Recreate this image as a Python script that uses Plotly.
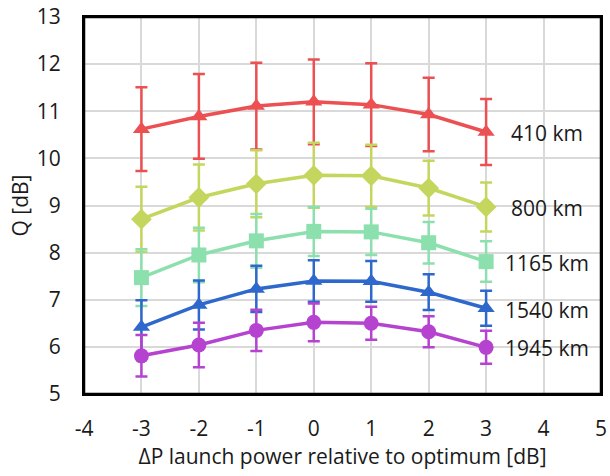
import plotly.graph_objects as go

x = [-3, -2, -1, 0, 1, 2, 3]

q_410 = [10.62, 10.89, 11.11, 11.20, 11.14, 10.93, 10.56]
e_410 = [0.89, 0.90, 0.92, 0.90, 0.88, 0.78, 0.70]

q_800 = [8.71, 9.17, 9.46, 9.64, 9.63, 9.37, 8.97]
e_800 = [0.69, 0.70, 0.71, 0.69, 0.66, 0.58, 0.52]

q_1165 = [7.47, 7.95, 8.25, 8.45, 8.44, 8.21, 7.81]
e_1165 = [0.60, 0.58, 0.57, 0.52, 0.49, 0.44, 0.43]

q_1540 = [6.42, 6.89, 7.23, 7.40, 7.39, 7.16, 6.82]
e_1540 = [0.57, 0.52, 0.49, 0.44, 0.43, 0.38, 0.37]

q_1945 = [5.81, 6.04, 6.35, 6.52, 6.50, 6.32, 5.99]
e_1945 = [0.44, 0.47, 0.44, 0.40, 0.35, 0.33, 0.35]

x_ticks = [-4, -3, -2, -1, 0, 1, 2, 3, 4, 5]
x_ticktext = ["-4", "-3", "-2", "-1", "0", "1", "2", "3", "4", "5"]

names = ["410 km", "800 km", "1165 km", "1540 km", "1945 km"]
label_x = [3.39, 3.39, 3.29, 3.29, 3.29]
label_y = [10.53, 8.94, 7.78, 6.78, 5.97]

series = [
    (q_410, e_410, "#EC5052", "triangle-up"),
    (q_800, e_800, "#C5D65E", "diamond"),
    (q_1165, e_1165, "#8CE0AE", "square"),
    (q_1540, e_1540, "#2E68CC", "triangle-up"),
    (q_1945, e_1945, "#B543D0", "circle"),
]

fig = go.Figure()
for (q, e, c, sym), name in zip(series, names):
    fig.add_trace(go.Scatter(
        x=x, y=q, mode="lines+markers", name=name,
        line=dict(color=c, width=3.5),
        marker=dict(color=c, symbol=sym, size=15 if sym != "diamond" else 16),
        error_y=dict(type="data", array=e, visible=True, color=c,
                     thickness=2.5, width=6),
    ))

for name, lx, ly in zip(names, label_x, label_y):
    fig.add_annotation(x=lx, y=ly, text=name, showarrow=False,
                       xanchor="left", yanchor="middle",
                       font=dict(size=21, color="#1a1a1a", family="Open Sans"))

# plot-area frame
fig.add_shape(type="rect", xref="paper", yref="paper", x0=0, y0=0, x1=1, y1=1,
              line=dict(color="black", width=2.5), fillcolor="rgba(0,0,0,0)",
              layer="above")

axis_common = dict(
    showgrid=True, gridcolor="#D9D9D9", gridwidth=1.5,
    showline=True, linecolor="black", linewidth=2, mirror=True,
    zeroline=False,
    ticks="outside", tickcolor="rgba(0,0,0,0)",
    automargin=False,
    tickfont=dict(size=21, color="#1a1a1a", family="Open Sans"),
)

fig.update_layout(
    width=610, height=476,
    margin=dict(l=84, r=9, t=17, b=82),
    paper_bgcolor="white", plot_bgcolor="white",
    showlegend=False,
    font=dict(family="Open Sans", color="#1a1a1a"),
    xaxis=dict(range=[-4, 5], tickmode="array", tickvals=x_ticks,
               ticktext=x_ticktext, ticklen=15,
               title=dict(text="ΔP launch power relative to optimum [dB]",
                          font=dict(size=21, color="#1a1a1a"), standoff=2),
               **axis_common),
    yaxis=dict(range=[5, 13], dtick=1, tick0=5, ticklen=17,
               title=dict(text="Q [dB]", font=dict(size=21, color="#1a1a1a"),
                          standoff=2),
               **axis_common),
)

fig.write_html(
    "out.html",
    config={"displayModeBar": False},
    post_script="document.body.style.margin='0';document.body.style.overflow='hidden';",
)
